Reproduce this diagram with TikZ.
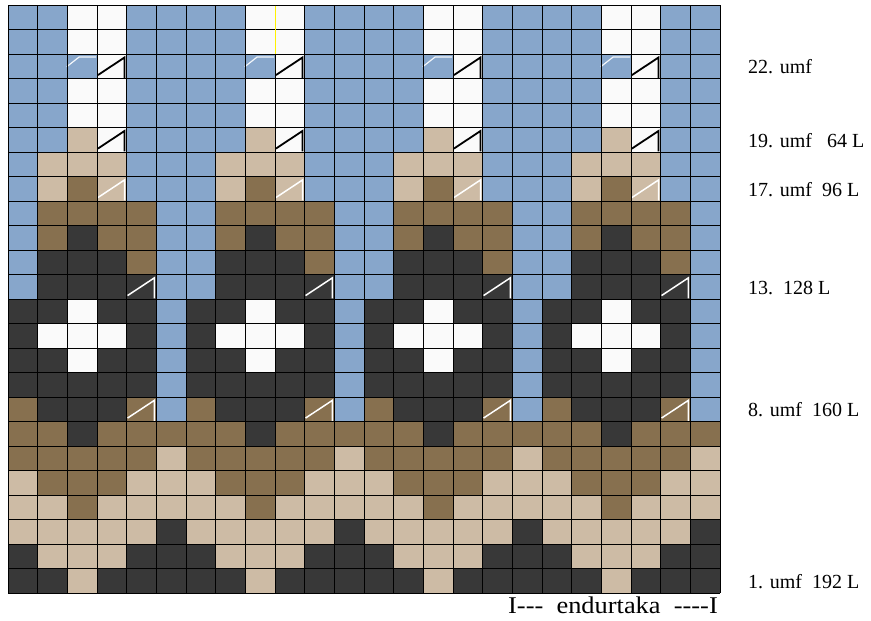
\documentclass[tikz,border=0pt]{standalone}
\usepackage{fontspec}
\setmainfont{Liberation Serif}
\definecolor{colB}{RGB}{135,166,203}
\definecolor{colW}{RGB}{250,250,250}
\definecolor{colL}{RGB}{205,187,165}
\definecolor{colM}{RGB}{135,112,79}
\definecolor{colD}{RGB}{56,56,56}
\definecolor{symorange}{RGB}{200,110,20}
\tikzset{
  lbl/.style={anchor=base west,inner sep=0pt,font=\fontsize{20}{24}\selectfont},
  botlbl/.style={anchor=base west,inner sep=0pt,font=\fontsize{24}{28}\selectfont},
  gridline/.style={black,line width=0.8pt},
  decblack/.style={black,line width=1.8pt},
  decwhite/.style={white,line width=1.5pt},
}
\newcommand{\cw}{29.6667}
\newcommand{\rh}{24.5}
% symbol in cell (col, rowindex-from-top) with style
\newcommand{\decsym}[3]{%
  \pgfmathsetmacro{\sx}{8+(#1)*\cw}\pgfmathsetmacro{\sy}{5+(#2)*\rh}%
  \draw[#3,line join=miter] (\sx+0.03*\cw,\sy+0.86*\rh) -- (\sx+0.93*\cw,\sy+0.14*\rh) -- (\sx+0.93*\cw,\sy+0.97*\rh);}
\newcommand{\decsymblack}[2]{%
  \pgfmathsetmacro{\sx}{8+(#1)*\cw}\pgfmathsetmacro{\sy}{5+(#2)*\rh}%
  \draw[symorange,line width=1pt] (\sx+0.98*\cw,\sy+0.16*\rh) -- (\sx+0.98*\cw,\sy+0.97*\rh);
  \draw[decblack,line join=miter] (\sx+0.03*\cw,\sy+0.86*\rh) -- (\sx+0.93*\cw,\sy+0.14*\rh) -- (\sx+0.93*\cw,\sy+0.97*\rh);}
\newcommand{\partstroke}[2]{%
  \pgfmathsetmacro{\sx}{8+(#1)*\cw}\pgfmathsetmacro{\sy}{5+(#2)*\rh}%
  \draw[white!90!colB,line width=1.2pt] (\sx-0.02*\cw,\sy+0.52*\rh) -- (\sx+0.4*\cw,\sy+0.12*\rh) -- (\sx+0.97*\cw,\sy+0.12*\rh);}
\begin{document}
\begin{tikzpicture}[x=1pt,y=-1pt]
\useasboundingbox (0,0) rectangle (871,621);
\fill[white] (0,0) rectangle (871,621);
% cells
\foreach \r/\row in {
 0/{B,B,W,W,B,B},
 1/{B,B,W,W,B,B},
 2/{B,B,B,W,B,B},
 3/{B,B,W,W,B,B},
 4/{B,B,W,W,B,B},
 5/{B,B,L,W,B,B},
 6/{B,L,L,L,B,B},
 7/{B,L,M,L,B,B},
 8/{B,M,M,M,M,B},
 9/{B,M,D,M,M,B},
 10/{B,D,D,D,M,B},
 11/{B,D,D,D,D,B},
 12/{D,D,W,D,D,B},
 13/{D,W,W,W,D,B},
 14/{D,D,W,D,D,B},
 15/{D,D,D,D,D,B},
 16/{M,D,D,D,M,B},
 17/{M,M,D,M,M,M},
 18/{M,M,M,M,M,L},
 19/{L,M,M,M,L,L},
 20/{L,L,M,L,L,L},
 21/{L,L,L,L,L,D},
 22/{D,L,L,L,D,D},
 23/{D,D,L,D,D,D}} {
  \foreach \c [count=\ci from 0] in \row {
    \foreach \k in {0,1,2,3} {
      \pgfmathsetmacro{\cx}{8+(6*\k+\ci)*\cw}
      \pgfmathsetmacro{\cy}{5+\r*\rh}
      \fill[col\c] (\cx,\cy) rectangle ++(\cw,\rh);
    }
  }
}
% symbols
\foreach \k in {0,1,2,3} {
  \partstroke{6*\k+2}{2}
  \decsymblack{6*\k+3}{2}
  \decsymblack{6*\k+3}{5}
  \decsym{6*\k+3}{7}{decwhite}
  \decsym{6*\k+4}{11}{decwhite}
  \decsym{6*\k+4}{16}{decwhite}
}
% grid
\foreach \i in {0,...,24} {
  \draw[gridline] (8+\i*\cw,5) -- (8+\i*\cw,593);
  \draw[gridline] (8,5+\i*\rh) -- (720,5+\i*\rh);
}
\draw[yellow,line width=1pt] (8+9*\cw,5.5) -- (8+9*\cw,5+2*\rh);
% labels
\node[lbl] (l22) at (748,73) {22. umf};
\node[lbl] (l19) at (748,147) {19. umf\ \ \ 64 L};
\node[lbl] (l17) at (748,196) {17. umf\ \ 96 L};
\node[lbl] (l13) at (748,294) {13.\ \ 128 L};
\node[lbl] (l8) at (748,416) {8. umf\ \ 160 L};
\node[lbl] (l1) at (748,588) {1. umf\ \ 192 L};
\node[botlbl] (rep) at (508,613) {\scalebox{1.1}[1]{I-{}-{}-\ \ endurtaka\ \ -{}-{}-{}-I}};
\end{tikzpicture}
\end{document}
